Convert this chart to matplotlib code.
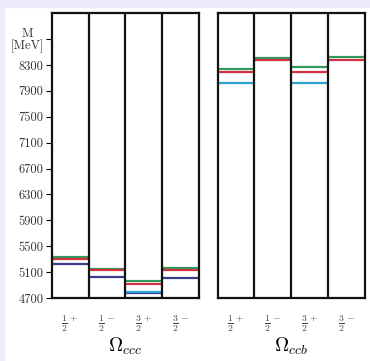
import matplotlib
matplotlib.use("Agg")
import matplotlib.pyplot as plt

plt.rcParams['font.family'] = 'serif'
plt.rcParams['font.serif'] = ['cmr10', 'DejaVu Serif']
plt.rcParams['mathtext.fontset'] = 'cm'
plt.rcParams['axes.formatter.use_mathtext'] = True

# quantum numbers (columns)
states = [r'$\frac{1}{2}^+$', r'$\frac{1}{2}^-$', r'$\frac{3}{2}^+$', r'$\frac{3}{2}^-$']

# Omega_ccc masses [MeV], one value per column (None = no level)
ccc_green = [5330, 5150, 4965, 5165]
ccc_red = [5305, 5140, 4912, 5128]
ccc_navy = [5218, 5020, 4782, 5015]
ccc_blue = [None, None, 4800, None]

# Omega_ccb masses [MeV]
ccb_green = [8240, 8414, 8266, 8424]
ccb_red = [8188, 8378, 8193, 8378]
ccb_navy = [None, None, None, None]
ccb_blue = [8018, None, 8023, None]

yticks = [4700, 5100, 5500, 5900, 6300, 6700, 7100, 7500, 7900, 8300, 8700]
yticklabels = [str(v) for v in yticks[:-1]] + ['M\n[MeV]']

colors = {'green': '#2f9a5c', 'red': '#d1323d', 'navy': '#3b3b8e', 'blue': '#2aa3d3'}

fig = plt.figure(figsize=(3.70, 3.61), dpi=100, facecolor='white')
# lavender page strip on top and left
fig.patches.append(plt.Rectangle((0, 1 - 7 / 361), 1, 7 / 361, transform=fig.transFigure,
                                 color='#ececfb', zorder=0))
fig.patches.append(plt.Rectangle((0, 0), 4 / 370, 1, transform=fig.transFigure,
                                 color='#ececfb', zorder=0))

ax1 = fig.add_axes([0.1405, 0.1745, 0.397, 0.789])
ax2 = fig.add_axes([0.588, 0.1745, 0.3986, 0.789])

panels = [
    (ax1, r'$\Omega_{ccc}$', [ccc_green, ccc_red, ccc_navy, ccc_blue]),
    (ax2, r'$\Omega_{ccb}$', [ccb_green, ccb_red, ccb_navy, ccb_blue]),
]

for ax, title, series in panels:
    for vals, cname in zip(series, ['green', 'red', 'navy', 'blue']):
        for i, v in enumerate(vals):
            if v is None:
                continue
            ax.hlines(v, i, i + 1, colors=colors[cname], lw=1.6, zorder=2)
    for xv in [1, 2, 3]:
        ax.axvline(xv, color='#111111', lw=1.6, zorder=3)
    ax.set_xlim(0, 4)
    ax.set_ylim(4700, 9100)
    ax.set_xticks([0.5, 1.5, 2.5, 3.5])
    ax.set_xticklabels(states, fontsize=10, color='#444444')
    ax.tick_params(axis='x', length=0, pad=11)
    ax.set_xlabel(title, fontsize=14, labelpad=1)
    for s in ax.spines.values():
        s.set_linewidth(1.6)
        s.set_color('#111111')

ax1.set_yticks(yticks)
ax1.set_yticklabels(yticklabels, fontsize=9, color='#333333', linespacing=0.95)
for lab in ax1.get_yticklabels():
    lab.set_multialignment('center')
ax1.tick_params(axis='y', length=4, width=0.8, pad=2)
ax2.set_yticks([])

fig.savefig('out.png', dpi=100, facecolor='white')
